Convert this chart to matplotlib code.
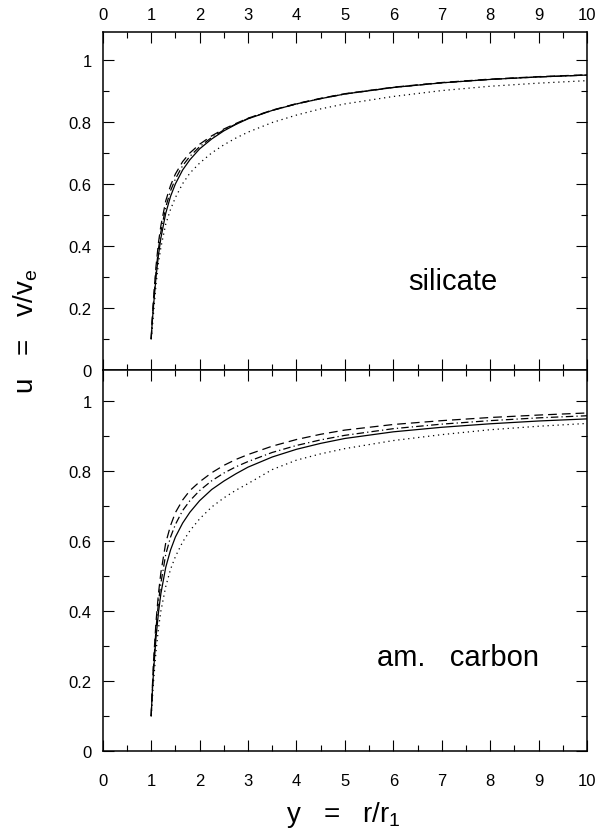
import matplotlib
matplotlib.use('Agg')
import matplotlib.pyplot as plt
from matplotlib.ticker import MultipleLocator, FixedLocator

plt.rcParams['font.family'] = ['Liberation Sans', 'DejaVu Sans']
plt.rcParams['mathtext.fontset'] = 'custom'
plt.rcParams['mathtext.rm'] = 'Liberation Sans'
plt.rcParams['mathtext.it'] = 'Liberation Sans'

# radius y = r/r1
y = [1.0, 1.02, 1.05, 1.1, 1.15, 1.2, 1.3, 1.4, 1.5, 1.65, 1.8, 2.0, 2.25, 2.5,
     2.75, 3.0, 3.5, 4.0, 4.5, 5.0, 6.0, 7.0, 8.0, 9.0, 10.0]

# silicate panel
sil_solid = [0.10, 0.15, 0.21, 0.30, 0.37, 0.425, 0.505, 0.56, 0.60, 0.645, 0.678, 0.713,
             0.745, 0.771, 0.792, 0.810, 0.837, 0.858, 0.875, 0.890, 0.911, 0.926, 0.937,
             0.945, 0.951]
sil_dash = [0.10, 0.16, 0.235, 0.335, 0.41, 0.465, 0.545, 0.595, 0.632, 0.672, 0.700, 0.728,
            0.755, 0.777, 0.795, 0.812, 0.838, 0.859, 0.876, 0.891, 0.912, 0.927, 0.938,
            0.946, 0.952]
sil_dashdot = [0.10, 0.155, 0.222, 0.318, 0.39, 0.445, 0.525, 0.578, 0.616, 0.659, 0.689, 0.720,
               0.750, 0.774, 0.793, 0.811, 0.837, 0.858, 0.875, 0.890, 0.911, 0.926, 0.937,
               0.945, 0.951]
sil_dot = [0.10, 0.13, 0.185, 0.275, 0.345, 0.395, 0.47, 0.518, 0.556, 0.601, 0.635, 0.667,
           0.700, 0.726, 0.748, 0.767, 0.798, 0.822, 0.842, 0.858, 0.882, 0.901, 0.915,
           0.925, 0.933]

# amorphous carbon panel
car_solid = [0.10, 0.16, 0.23, 0.325, 0.395, 0.45, 0.525, 0.575, 0.612, 0.652, 0.683, 0.716,
             0.748, 0.772, 0.793, 0.812, 0.841, 0.863, 0.880, 0.894, 0.913, 0.926, 0.936,
             0.944, 0.950]
car_dash = [0.10, 0.17, 0.26, 0.37, 0.45, 0.51, 0.595, 0.645, 0.682, 0.718, 0.745, 0.770,
            0.796, 0.817, 0.834, 0.848, 0.872, 0.891, 0.906, 0.918, 0.934, 0.945, 0.954,
            0.961, 0.967]
car_dashdot = [0.10, 0.165, 0.245, 0.35, 0.425, 0.48, 0.562, 0.612, 0.648, 0.688, 0.716, 0.745,
               0.773, 0.795, 0.813, 0.828, 0.854, 0.874, 0.890, 0.903, 0.922, 0.935, 0.945,
               0.953, 0.959]
car_dot = [0.10, 0.14, 0.20, 0.285, 0.35, 0.40, 0.47, 0.52, 0.556, 0.598, 0.630, 0.664,
           0.698, 0.724, 0.746, 0.765, 0.805, 0.832, 0.850, 0.865, 0.888, 0.905, 0.919,
           0.929, 0.937]

yticks = [0, 0.2, 0.4, 0.6, 0.8, 1]
ytick_labels = ['0', '0.2', '0.4', '0.6', '0.8', '1']

fig = plt.figure(figsize=(6.08, 8.37), dpi=100)
ax1 = fig.add_axes([0.169, 0.5568, 0.7965, 0.4038])
ax2 = fig.add_axes([0.169, 0.1016, 0.7965, 0.4552])

lw = 0.9
for ax, curves in [(ax1, (sil_solid, sil_dash, sil_dashdot, sil_dot)),
                   (ax2, (car_solid, car_dash, car_dashdot, car_dot))]:
    s, d, dd, dt = curves
    ax.plot(y, s, color='black', lw=lw)
    ax.plot(y, d, color='black', lw=lw, dashes=(7, 4))
    ax.plot(y, dd, color='black', lw=lw, dashes=(6, 2.5, 1, 2.5))
    ax.plot(y, dt, color='black', lw=lw, dashes=(1, 3))

    ax.set_xlim(0, 10)
    ax.set_ylim(0, 1.09)
    ax.xaxis.set_major_locator(MultipleLocator(1))
    ax.xaxis.set_minor_locator(MultipleLocator(0.5))
    ax.yaxis.set_major_locator(FixedLocator(yticks))
    ax.yaxis.set_minor_locator(MultipleLocator(0.1))
    ax.set_yticklabels(ytick_labels)
    ax.tick_params(which='both', direction='in', top=True, bottom=True,
                   left=True, right=True, width=0.8, labelsize=12)
    ax.tick_params(which='major', length=8)
    ax.tick_params(which='minor', length=4)
    ax.tick_params(axis='y', pad=8)
    for sp in ax.spines.values():
        sp.set_linewidth(1.1)

ax1.tick_params(axis='x', labelbottom=False, labeltop=True, pad=7)
ax2.tick_params(axis='x', labelbottom=True, labeltop=False, pad=16)
ax2.set_xticks(range(0, 11))
ax2.set_xticklabels([str(i) for i in range(0, 11)])

ax1.text(7.23, 0.287, 'silicate', fontsize=21, ha='center', va='center')
ax2.text(7.34, 0.27, 'am.   carbon', fontsize=21, ha='center', va='center')

fig.text(0.565, 0.026, r'y   =   r$/$r$_{1}$', fontsize=20, ha='center', va='center')
fig.text(0.043, 0.604, r'u   =   v$/$v$_{e}$', fontsize=20, ha='center', va='center',
         rotation=90)

plt.savefig('out.png', dpi=100)
